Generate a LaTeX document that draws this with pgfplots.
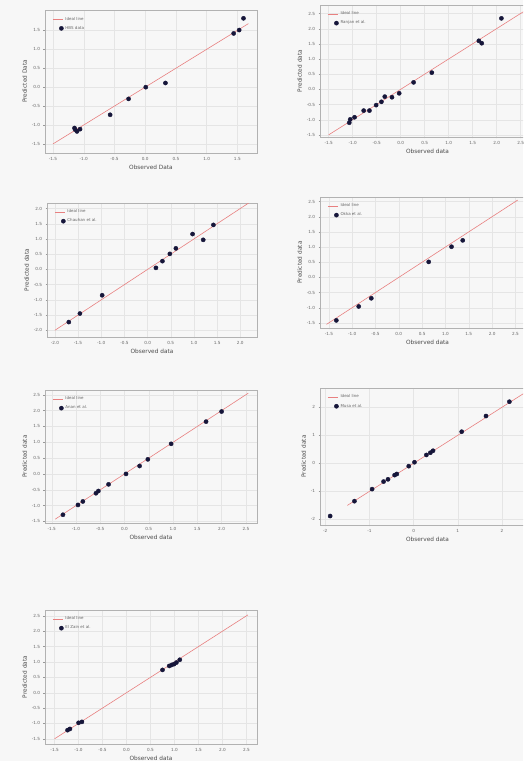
\documentclass[border=0pt]{standalone}
\usepackage{fontspec}
\setmainfont{DejaVu Sans}
\usepackage{pgfplots}
\pgfplotsset{compat=1.18}
\definecolor{idealc}{RGB}{232,128,128}
\definecolor{ptsc}{RGB}{22,22,58}
\pgfplotsset{
 panel/.style={
  scale only axis,
  anchor=south west,
  axis line style={black!30, line width=0.4pt},
  grid=major,
  major grid style={black!10, line width=0.3pt},
  tick style={black!40, line width=0.3pt},
  major tick length=1.5pt,
  tick align=outside,
  tick pos=left,
  tick label style={font=\fontsize{4.2}{4.5}\selectfont, text=black!60},
  xticklabel style={yshift=1pt},
  label style={font=\fontsize{5.8}{6}\selectfont, text=black!70},
  xlabel style={yshift=2pt},
  ylabel style={yshift=-2pt},
  /pgf/number format/assume math mode=true,
  /pgf/number format/fixed,
  /pgf/number format/fixed zerofill,
  /pgf/number format/precision=1,
  legend style={at={(0.02,0.98)}, anchor=north west, draw=none, fill=none,
    font=\fontsize{4}{4.5}\selectfont, text=black!60, row sep=0.5pt},
  legend cell align=left,
  xlabel={Observed data}, ylabel={Predicted data},
 },
 ideal/.style={idealc, line width=0.6pt, no markers,
   legend image code/.code={\draw[idealc, line width=0.8pt] (0cm,0cm) -- (0.35cm,0cm);}},
 obs/.style={only marks, mark=*, mark size=2.1pt, color=ptsc, mark options={fill=ptsc, draw=ptsc}},
}
\begin{document}
\begin{tikzpicture}
\path[use as bounding box] (0pt,0pt) rectangle (523pt,761pt);
\clip (0pt,0pt) rectangle (523pt,761pt);
\fill[black!3] (0pt,0pt) rectangle (523pt,761pt);

% Plot 1
\begin{axis}[panel, at={(45pt,608pt)}, width=212pt, height=143pt,
  xmin=-1.63, xmax=1.82, ymin=-1.74, ymax=2.04,
  xtick={-1.5,-1,-0.5,0,0.5,1,1.5}, ytick={-1.5,-1,-0.5,0,0.5,1,1.5},
  xlabel={Observed Data}, ylabel={Predicted Data}]
\addplot[ideal] coordinates {(-1.5,-1.5) (1.68,1.68)};
\addlegendentry{Ideal line}
\addplot[obs] table {
x y
-1.14 -1.12
-1.11 -1.17
-1.06 -1.11
-1.15 -1.08
-0.57 -0.73
-0.27 -0.31
0.01 0.00
0.33 0.11
1.44 1.42
1.53 1.51
1.60 1.82
};
\addlegendentry{HBS data}
\end{axis}

% Plot 2
\begin{axis}[panel, at={(320pt,624pt)}, width=215pt, height=132pt,
  xmin=-1.68, xmax=2.8, ymin=-1.57, ymax=2.78,
  xtick={-1.5,-1,-0.5,0,0.5,1,1.5,2,2.5}, ytick={-1.5,-1,-0.5,0,0.5,1,1.5,2,2.5}]
\addplot[ideal] coordinates {(-1.5,-1.5) (2.6,2.6)};
\addlegendentry{Ideal line}
\addplot[obs] table {
x y
-1.07 -1.10
-1.05 -0.99
-0.96 -0.92
-0.77 -0.70
-0.65 -0.70
-0.51 -0.52
-0.40 -0.41
-0.33 -0.24
-0.18 -0.26
-0.03 -0.13
0.27 0.23
0.65 0.55
1.63 1.60
1.69 1.52
2.10 2.34
};
\addlegendentry{Ranjan et al.}
\end{axis}

% Plot 3
\begin{axis}[panel, at={(47pt,424pt)}, width=210pt, height=134pt,
  xmin=-2.17, xmax=2.36, ymin=-2.22, ymax=2.18,
  xtick={-2,-1.5,-1,-0.5,0,0.5,1,1.5,2}, ytick={-2,-1.5,-1,-0.5,0,0.5,1,1.5,2}]
\addplot[ideal] coordinates {(-2,-2) (2.18,2.18)};
\addlegendentry{Ideal line}
\addplot[obs] table {
x y
-1.70 -1.73
-1.46 -1.45
-0.98 -0.85
0.18 0.05
0.32 0.27
0.48 0.51
0.61 0.69
0.97 1.16
1.20 0.97
1.42 1.46
};
\addlegendentry{Chauhan et al.}
\end{axis}

% Plot 4
\begin{axis}[panel, at={(320pt,433pt)}, width=215pt, height=131pt,
  xmin=-1.69, xmax=2.92, ymin=-1.67, ymax=2.65,
  xtick={-1.5,-1,-0.5,0,0.5,1,1.5,2,2.5}, ytick={-1.5,-1,-0.5,0,0.5,1,1.5,2,2.5}]
\addplot[ideal] coordinates {(-1.55,-1.55) (2.55,2.55)};
\addlegendentry{Ideal line}
\addplot[obs] table {
x y
-1.34 -1.42
-0.86 -0.96
-0.59 -0.69
0.64 0.51
1.13 1.01
1.37 1.22
};
\addlegendentry{Okka et al.}
\end{axis}

% Plot 5
\begin{axis}[panel, at={(45pt,238pt)}, width=212pt, height=133pt,
  xmin=-1.64, xmax=2.73, ymin=-1.55, ymax=2.65,
  xtick={-1.5,-1,-0.5,0,0.5,1,1.5,2,2.5}, ytick={-1.5,-1,-0.5,0,0.5,1,1.5,2,2.5}]
\addplot[ideal] coordinates {(-1.43,-1.43) (2.55,2.55)};
\addlegendentry{Ideal line}
\addplot[obs] table {
x y
-1.27 -1.29
-0.96 -0.98
-0.86 -0.87
-0.59 -0.61
-0.54 -0.54
-0.33 -0.33
0.03 0.00
0.31 0.25
0.48 0.46
0.96 0.95
1.68 1.65
2.00 1.97
};
\addlegendentry{Anan et al.}
\end{axis}

% Plot 6
\begin{axis}[panel, at={(320pt,236pt)}, width=215pt, height=137pt,
  xmin=-2.12, xmax=2.75, ymin=-2.2, ymax=2.69,
  xtick={-2,-1,0,1,2}, ytick={-2,-1,0,1,2},
  /pgf/number format/precision=0, /pgf/number format/fixed zerofill=false]
\addplot[ideal] coordinates {(-1.5,-1.5) (2.5,2.5)};
\addlegendentry{Ideal line}
\addplot[obs] table {
x y
-1.89 -1.88
-1.34 -1.35
-0.94 -0.92
-0.68 -0.65
-0.58 -0.57
-0.43 -0.42
-0.38 -0.38
-0.11 -0.10
0.02 0.04
0.29 0.30
0.38 0.38
0.44 0.45
1.09 1.13
1.64 1.69
2.17 2.20
};
\addlegendentry{Musa et al.}
\end{axis}

% Plot 7
\begin{axis}[panel, at={(45pt,17pt)}, width=212pt, height=134pt,
  xmin=-1.70, xmax=2.72, ymin=-1.67, ymax=2.69,
  xtick={-1.5,-1,-0.5,0,0.5,1,1.5,2,2.5}, ytick={-1.5,-1,-0.5,0,0.5,1,1.5,2,2.5}]
\addplot[ideal] coordinates {(-1.5,-1.5) (2.53,2.53)};
\addlegendentry{Ideal line}
\addplot[obs] table {
x y
-1.23 -1.22
-1.18 -1.18
-1.00 -0.98
-0.93 -0.95
0.75 0.74
0.89 0.87
0.94 0.90
0.99 0.93
1.04 0.98
1.11 1.07
};
\addlegendentry{El Zain et al.}
\end{axis}
\end{tikzpicture}
\end{document}
